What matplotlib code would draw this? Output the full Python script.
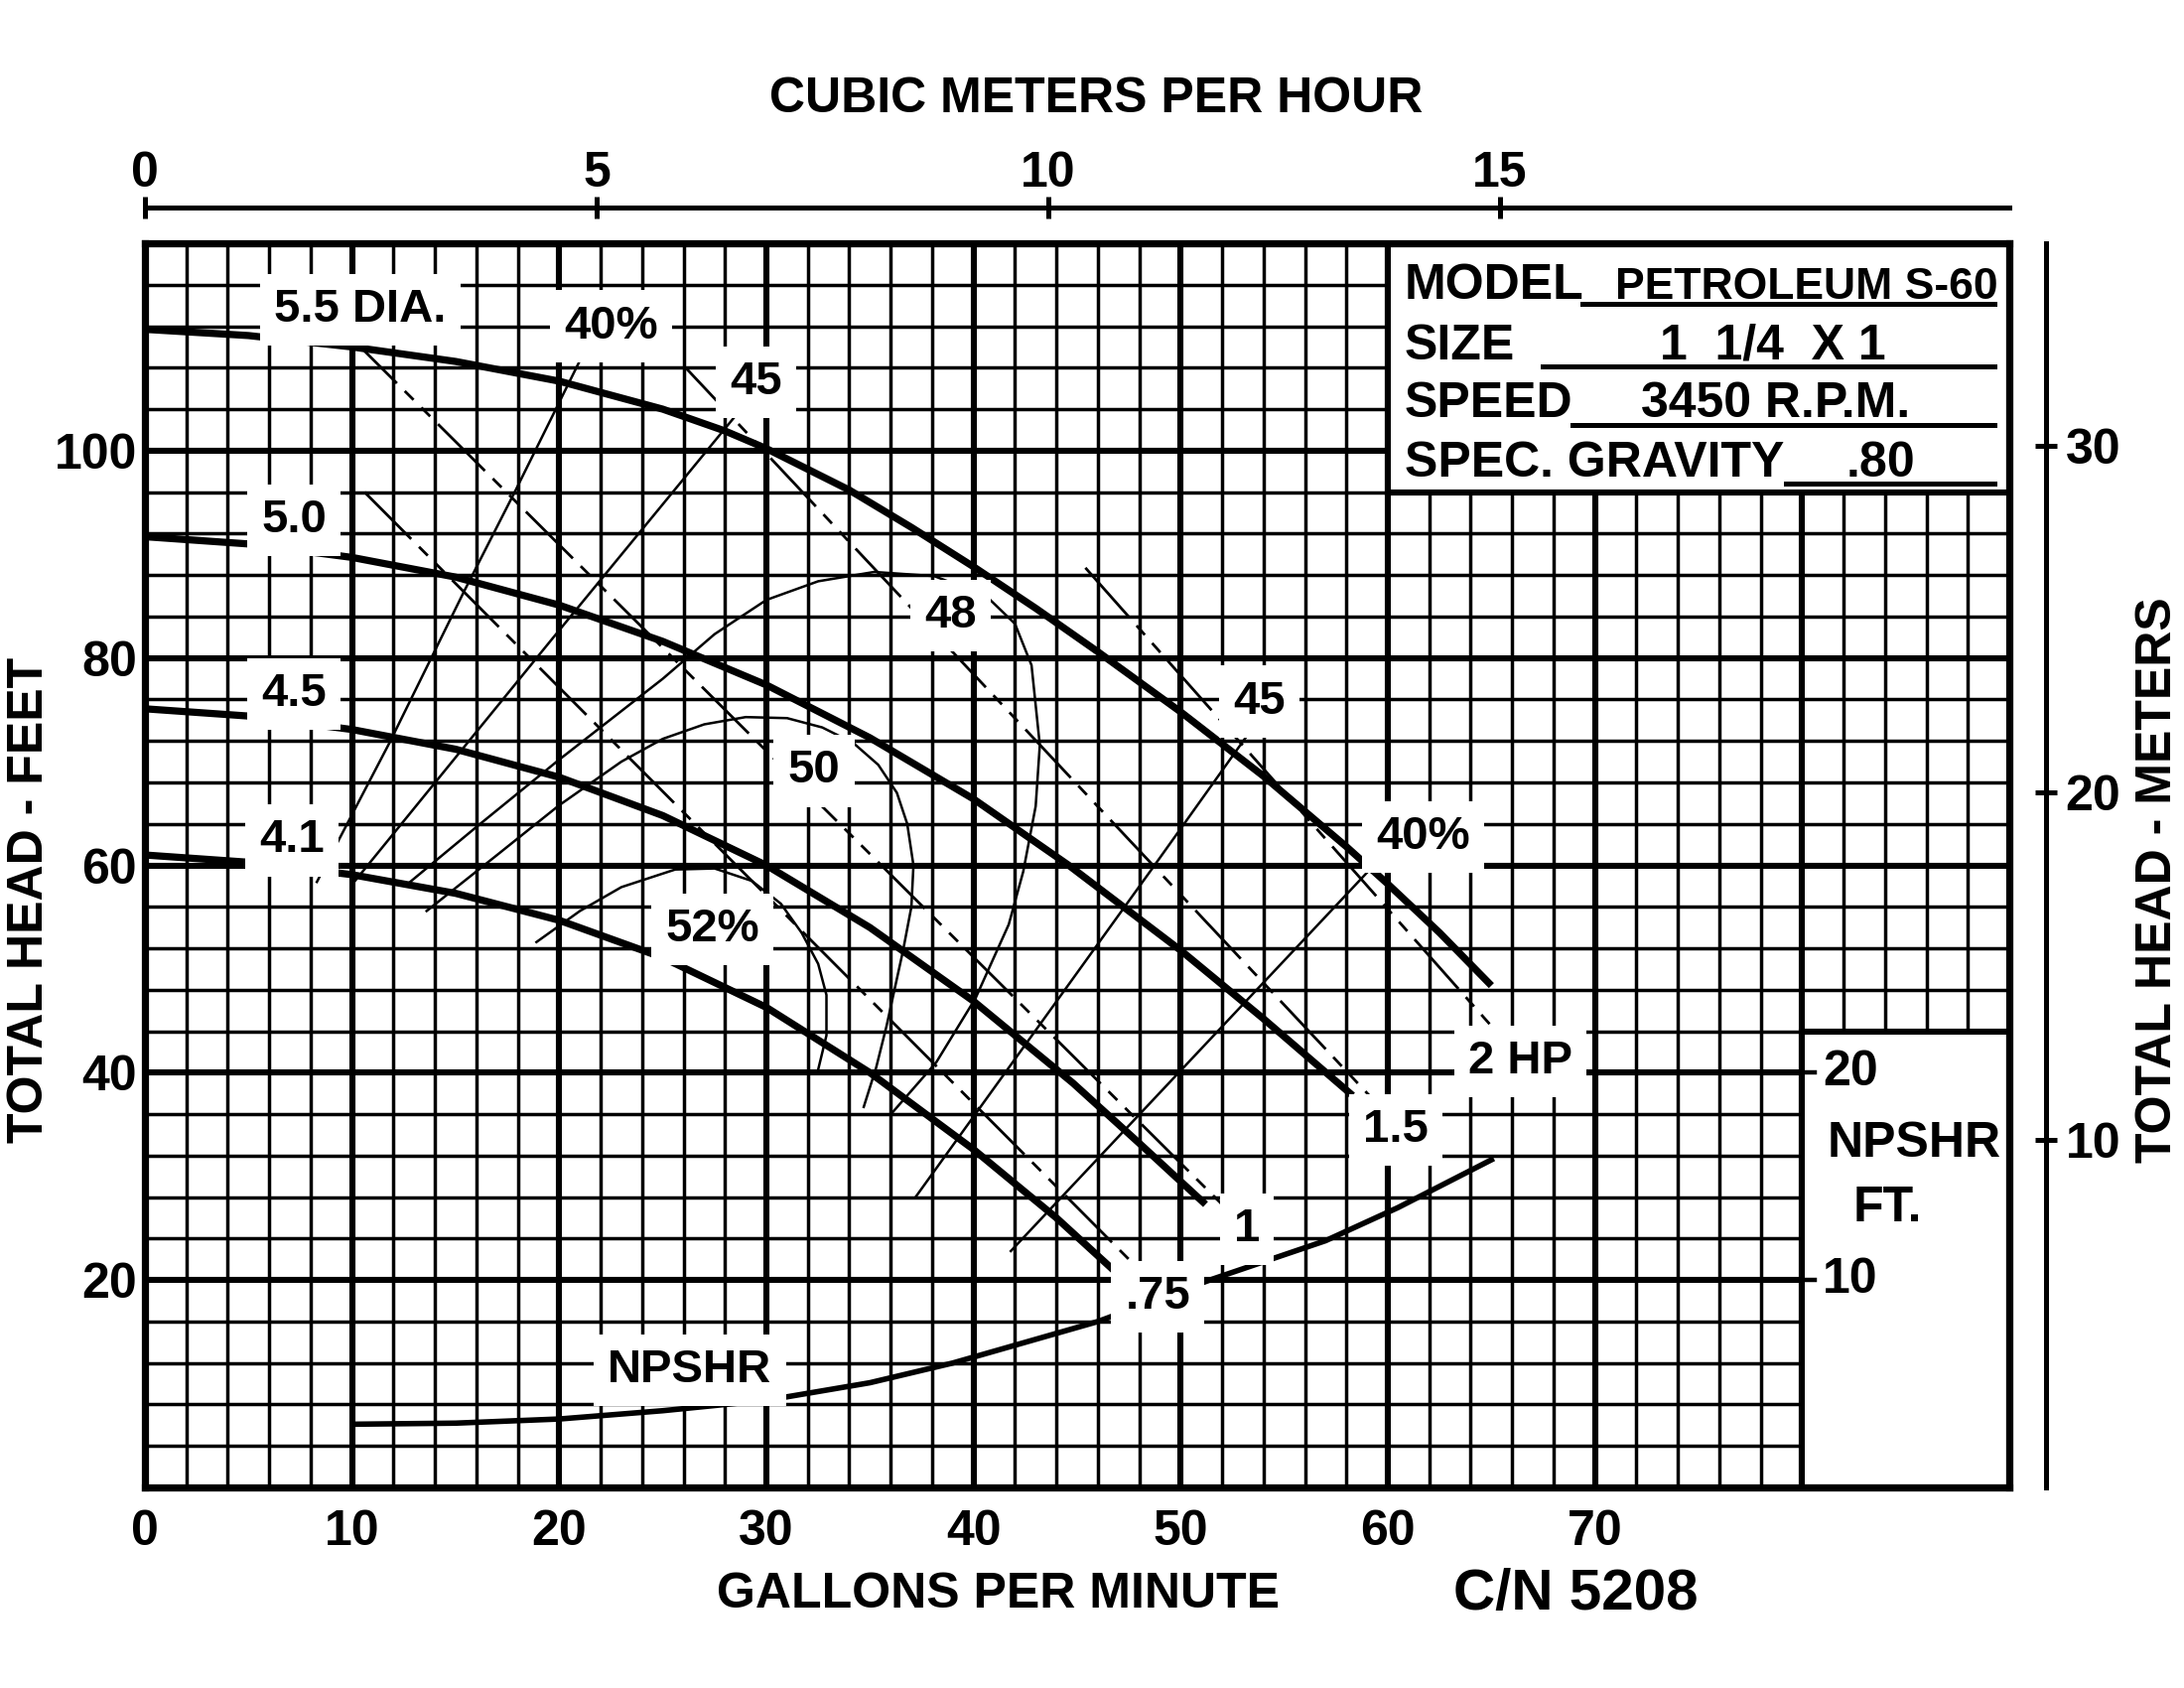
import matplotlib
matplotlib.use("Agg")
import matplotlib.pyplot as plt
from matplotlib.patches import Rectangle

plt.rcParams['font.family'] = ['Liberation Sans', 'DejaVu Sans']
plt.rcParams['font.weight'] = 'bold'
plt.rcParams['lines.scale_dashes'] = False

# head-capacity curves per impeller diameter (gpm, feet)
dia_labels = ['5.5 DIA.', '5.0', '4.5', '4.1']
gpm_55 = [0, 5, 10, 15, 20, 25, 28, 30, 34, 37, 40, 43, 46, 50, 54, 58, 60, 62.5, 65]
ft_55 = [111.7, 111.1, 110.0, 108.6, 106.7, 104.0, 101.9, 100.2, 96.2, 92.6, 88.8, 84.8, 80.6, 74.8, 68.6, 61.8, 58.2, 53.5, 48.4]
gpm_50 = [0, 5, 10, 15, 20, 25, 30, 35, 40, 44.6, 50, 54, 58.3]
ft_50 = [91.7, 91.0, 89.7, 87.8, 85.1, 81.6, 77.4, 72.3, 66.4, 60.0, 51.8, 45.2, 37.8]
gpm_45 = [0, 5, 10, 15, 20, 25, 30, 35, 40, 44.8, 48, 51.2]
ft_45 = [75.1, 74.4, 73.1, 71.2, 68.5, 64.8, 60.0, 54.0, 46.9, 39.0, 33.2, 27.3]
gpm_41 = [0, 5, 10, 15, 20, 25, 30, 35, 40, 44, 46.9]
ft_41 = [61.0, 60.3, 59.1, 57.3, 54.7, 51.1, 46.3, 40.0, 32.6, 26.0, 20.7]

# efficiency lines (gpm, feet)
eff40l_gpm = [8.3, 11.8, 15.4, 17.9, 21.2]
eff40l_ft = [58.4, 71.8, 86.4, 96.2, 109.5]
eff45l_gpm = [10.1, 19.6, 29.1]
eff45l_ft = [58.4, 81.7, 104.8]
eff48_gpm = [12.8, 16, 20, 25, 27.5, 30, 32.5, 35.2, 38.1, 40.6, 42, 42.8, 43.2, 43, 42.4, 41.7, 40.1, 38.2, 36.1]
eff48_ft = [58.4, 63.7, 70.2, 78.0, 82.3, 85.6, 87.4, 88.3, 87.9, 86.0, 83.3, 79.3, 71.6, 65.7, 59.4, 54.3, 47.2, 41.0, 36.2]
eff50_gpm = [13.6, 17, 20, 23, 25, 27, 29, 31, 32.7, 34.2, 35.4, 36.3, 36.8, 37.1, 37.0, 36.6, 35.8, 35.3, 34.7]
eff50_ft = [55.6, 61.0, 65.8, 70.0, 72.2, 73.6, 74.3, 74.2, 73.3, 71.8, 69.7, 67.0, 64.0, 60.0, 56.0, 51.8, 44.5, 40.5, 36.7]
eff52_gpm = [18.9, 21, 23, 25.6, 27.5, 29.3, 30.7, 31.7, 32.5, 32.9, 32.9, 32.5]
eff52_ft = [52.6, 55.6, 57.9, 59.6, 59.7, 58.5, 56.3, 53.5, 50.5, 47.5, 43.6, 40.3]
eff45r_gpm = [37.2, 48.7, 53.2]
eff45r_ft = [28.0, 59.9, 72.5]
eff40r_gpm = [41.8, 59.7]
eff40r_ft = [22.8, 60.8]

# horsepower lines (gpm, feet)
hp2_gpm = [45.4, 65]
hp2_ft = [88.7, 44.5]
hp15_gpm = [26.1, 59.2]
hp15_ft = [108.0, 37.6]
hp1_gpm = [9.9, 52.4]
hp1_ft = [111.0, 26.5]
hp075_gpm = [10.6, 47.6]
hp075_ft = [96.0, 21.8]

# NPSHR curve (gpm, NPSHR feet)
npshr_gpm = [10.2, 15, 20, 25, 30, 35, 39, 46, 51.4, 57, 60.5, 65]
npshr_ft = [3.05, 3.1, 3.3, 3.7, 4.2, 5.05, 6.0, 8.0, 10.0, 11.9, 13.5, 15.8]
npshr_ticks = [10, 20]
npshr_scale = 2.0  # head feet per NPSHR foot on this chart

# secondary scales
gpm_per_m3h = 4.36
ft_per_m = 3.35
m3h_ticks = [0, 5, 10, 15]
m_ticks = [10, 20, 30]

fig = plt.figure(figsize=(11, 8.5), dpi=200)
L, B, W, H = 0.06636, 0.11882, 0.85364, 0.73706
ax = fig.add_axes([L, B, W, H])
ax.set_xlim(0, 90)
ax.set_ylim(0, 120)

# graph paper
for x in range(2, 90, 2):
    ax.axvline(x, color='k', lw=2.2 if x % 10 == 0 else 1.25, zorder=1)
for y in range(4, 120, 4):
    ax.axhline(y, color='k', lw=2.2 if y % 20 == 0 else 1.25, zorder=1)
for s in ax.spines.values():
    s.set_linewidth(2.6)
    s.set_zorder(6)

ax.add_patch(Rectangle((60, 96), 30, 24, fc='white', ec='k', lw=2.2, zorder=2))
ax.add_patch(Rectangle((80, 0), 10, 44, fc='white', ec='k', lw=2.2, zorder=2))

# head curves
for gx, gy in [(gpm_55, ft_55), (gpm_50, ft_50), (gpm_45, ft_45), (gpm_41, ft_41)]:
    ax.plot(gx, gy, color='k', lw=2.6, zorder=3, solid_capstyle='butt', solid_joinstyle='round')

# efficiency
for gx, gy in [(eff40l_gpm, eff40l_ft), (eff45l_gpm, eff45l_ft), (eff48_gpm, eff48_ft),
               (eff50_gpm, eff50_ft), (eff52_gpm, eff52_ft), (eff45r_gpm, eff45r_ft),
               (eff40r_gpm, eff40r_ft)]:
    ax.plot(gx, gy, color='k', lw=0.9, zorder=3)

# horsepower
hp_style = (0, (24, 4, 4.5, 4, 4.5, 4))
for gx, gy in [(hp2_gpm, hp2_ft), (hp15_gpm, hp15_ft), (hp1_gpm, hp1_ft), (hp075_gpm, hp075_ft)]:
    ax.plot(gx, gy, color='k', lw=1.0, ls=hp_style, zorder=3)

ax.plot(npshr_gpm, [v * npshr_scale for v in npshr_ft], color='k', lw=2.0, zorder=3)

# curve labels
box = dict(boxstyle='square,pad=0.3', fc='white', ec='none')
def lab(x, y, s, **kw):
    ax.text(x, y, s, fontsize=17, ha='center', va='center', bbox=box, zorder=4, **kw)

lab(10.4, 113.6, dia_labels[0])
lab(7.2, 93.3, dia_labels[1])
lab(7.2, 76.5, dia_labels[2])
lab(7.1, 62.4, dia_labels[3])
lab(22.5, 112.0, '40%')
lab(29.5, 106.6, '45')
lab(38.9, 84.1, '48')
lab(32.3, 69.1, '50')
lab(27.4, 53.8, '52%')
lab(53.8, 75.8, '45')
lab(61.7, 62.7, '40%')
lab(66.4, 41.1, '2 HP')
lab(60.4, 34.5, '1.5')
lab(53.2, 24.9, '1')
lab(48.9, 18.4, '.75')
lab(26.3, 11.3, 'NPSHR')

# info block
txt = dict(fontsize=18, va='baseline', zorder=5)
ax.text(60.8, 114.6, 'MODEL', ha='left', **txt)
ax.text(80.2, 114.6, 'PETROLEUM S-60', ha='center', fontsize=16, va='baseline', zorder=5)
ax.text(60.8, 108.8, 'SIZE', ha='left', **txt)
ax.text(78.6, 108.8, '1  1/4  X 1', ha='center', **txt)
ax.text(60.8, 103.2, 'SPEED', ha='left', **txt)
ax.text(78.7, 103.2, '3450 R.P.M.', ha='center', **txt)
ax.text(60.8, 97.5, 'SPEC. GRAVITY', ha='left', **txt)
ax.text(83.8, 97.5, '.80', ha='center', **txt)
ax.plot([69.4, 89.3], [114.2, 114.2], color='k', lw=1.8, zorder=5)
ax.plot([67.5, 89.3], [108.1, 108.1], color='k', lw=1.8, zorder=5)
ax.plot([68.9, 89.3], [102.5, 102.5], color='k', lw=1.8, zorder=5)
ax.plot([79.2, 89.3], [96.8, 96.8], color='k', lw=1.8, zorder=5)

# NPSHR scale
for t in npshr_ticks:
    ax.plot([80, 80.6], [t * npshr_scale] * 2, color='k', lw=1.6, zorder=5)
    ax.text(81.0, t * npshr_scale, str(t), fontsize=18, ha='left', va='center', zorder=5)
ax.text(85.4, 33.1, 'NPSHR', fontsize=18, ha='center', va='center', zorder=5)
ax.text(84.1, 26.9, 'FT.', fontsize=18, ha='center', va='center', zorder=5)

ax.set_xticks(range(0, 80, 10))
ax.set_yticks([20, 40, 60, 80, 100])
ax.tick_params(length=0, labelsize=18)
ax.tick_params(axis='x', pad=8)
ax.tick_params(axis='y', pad=3)

# cubic meters per hour scale
axt = fig.add_axes([L, 1 - 209 / 1700, W, 1e-5])
axt.set_xlim(0, 90 / gpm_per_m3h)
axt.set_yticks([])
for k in ['left', 'right', 'bottom']:
    axt.spines[k].set_visible(False)
axt.spines['top'].set_linewidth(1.8)
axt.set_xticks(m3h_ticks)
axt.tick_params(axis='x', top=True, bottom=False, labeltop=True, labelbottom=False,
                direction='inout', length=8, width=1.8, labelsize=18, pad=0)
axt.patch.set_visible(False)

# meters scale
axm = fig.add_axes([2061 / 2200, B, 1e-5, H])
axm.set_ylim(0, 120 / ft_per_m)
axm.set_xticks([])
for k in ['top', 'right', 'bottom']:
    axm.spines[k].set_visible(False)
axm.spines['left'].set_linewidth(1.8)
axm.set_yticks(m_ticks)
axm.tick_params(axis='y', left=True, right=False, labelleft=False, labelright=True,
                direction='inout', length=8, width=1.8, labelsize=18, pad=3)
axm.patch.set_visible(False)

fig.text(0.502, 0.941, 'CUBIC METERS PER HOUR', fontsize=18, ha='center', va='center')
fig.text(1005 / 2200, 1 - 1606 / 1700, 'GALLONS PER MINUTE', fontsize=18, ha='center', va='center')
fig.text(1587 / 2200, 1 - 1606 / 1700, 'C/N 5208', fontsize=21, ha='center', va='center')
fig.text(0.0136, 0.467, 'TOTAL HEAD - FEET', fontsize=18, rotation=90, ha='center', va='center')
fig.text(0.988, 0.479, 'TOTAL HEAD - METERS', fontsize=18, rotation=90, ha='center', va='center')

fig.savefig('out.png', dpi=200, facecolor='white')
